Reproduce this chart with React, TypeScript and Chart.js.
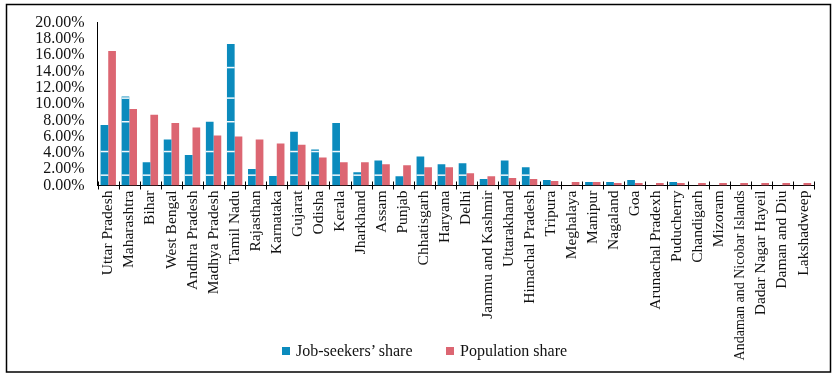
import React, { useEffect, useRef } from "react";
import { Chart, registerables } from "chart.js";

Chart.register(...registerables);

const categories = [
  "Uttar Pradesh", "Maharashtra", "Bihar", "West Bengal", "Andhra Pradesh",
  "Madhya Pradesh", "Tamil Nadu", "Rajasthan", "Karnataka", "Gujarat",
  "Odisha", "Kerala", "Jharkhand", "Assam", "Punjab", "Chhatisgarh",
  "Haryana", "Delhi", "Jammu and Kashmir", "Uttarakhand", "Himachal Pradesh",
  "Tripura", "Meghalaya", "Manipur", "Nagaland", "Goa", "Arunachal Pradexh",
  "Puducherry", "Chandigarh", "Mizoram", "Andaman and Nicobar Islands",
  "Dadar Nagar Hayeil", "Daman and Diu", "Lakshadweep",
];

const jobSeekersShare = [
  7.43, 10.94, 2.84, 5.66, 3.73, 7.83, 17.38, 2.03, 1.18, 6.59,
  4.41, 7.67, 1.63, 3.08, 1.15, 3.56, 2.6, 2.72, 0.79, 3.08,
  2.24, 0.66, 0, 0.42, 0.42, 0.66, 0, 0.42, 0, 0, 0, 0, 0, 0,
];

const populationShare = [
  16.5, 9.4, 8.68, 7.67, 7.11, 6.14, 6.02, 5.66, 5.17, 5.0,
  3.44, 2.84, 2.84, 2.6, 2.48, 2.24, 2.24, 1.51, 1.15, 0.91,
  0.79, 0.54, 0.42, 0.42, 0.3, 0.3, 0.3, 0.3, 0.3, 0.3, 0.3, 0.3, 0.3, 0.3,
];

const yTicks = [0, 2, 4, 6, 8, 10, 12, 14, 16, 18, 20];

// faint white streak levels visible across the blue bars in the source
const streakLevels = [1.27, 4.17, 7.83, 10.73, 14.48];

const BLUE = "#0b8bbd";
const PINK = "#dc6672";
const FONT = "'Liberation Serif', 'Times New Roman', serif";

const framePlugin = {
  id: "frame",
  afterDraw(chart: any) {
    const ctx = chart.ctx;
    ctx.save();
    ctx.strokeStyle = "#000";
    ctx.lineWidth = 1.5;
    ctx.strokeRect(6.5, 4.5, 824, 367.5);
    ctx.restore();
  },
};

const crossTicksPlugin = {
  id: "crossTicks",
  afterDraw(chart: any) {
    const ctx = chart.ctx;
    const xs = chart.scales.x;
    const y = chart.chartArea.bottom;
    ctx.save();
    ctx.strokeStyle = "#000";
    ctx.lineWidth = 1;
    for (let i = 0; i <= categories.length; i++) {
      const x = Math.round(xs.getPixelForValue(i - 0.5)) + 0.5;
      ctx.beginPath();
      ctx.moveTo(x, y - 4);
      ctx.lineTo(x, y + 4);
      ctx.stroke();
    }
    ctx.restore();
  },
};

const streakPlugin = {
  id: "streaks",
  afterDatasetsDraw(chart: any) {
    const ctx = chart.ctx;
    const ys = chart.scales.y;
    const meta = chart.getDatasetMeta(0);
    ctx.save();
    ctx.strokeStyle = "rgba(255,255,255,0.95)";
    ctx.lineWidth = 1.5;
    meta.data.forEach((bar: any) => {
      const props = bar.getProps(["x", "y", "base", "width"], true);
      streakLevels.forEach((lv) => {
        const py = ys.getPixelForValue(lv);
        if (py > props.y + 1 && py < props.base - 1) {
          ctx.beginPath();
          ctx.moveTo(props.x - props.width / 2, py);
          ctx.lineTo(props.x + props.width / 2, py);
          ctx.stroke();
        }
      });
    });
    ctx.restore();
  },
};

export default function App() {
  const canvasRef = useRef<HTMLCanvasElement | null>(null);

  useEffect(() => {
    document.body.style.margin = "0";
    const canvas = canvasRef.current;
    if (!canvas) return;
    const chart = new Chart(canvas, {
      type: "bar",
      data: {
        labels: categories,
        datasets: [
          {
            label: "Job-seekers’ share",
            data: jobSeekersShare,
            backgroundColor: BLUE,
            borderWidth: 0,
            categoryPercentage: 0.73,
            barPercentage: 1.0,
          },
          {
            label: "Population share",
            data: populationShare,
            backgroundColor: PINK,
            borderWidth: 0,
            categoryPercentage: 0.73,
            barPercentage: 1.0,
          },
        ],
      },
      options: {
        responsive: false,
        animation: false,
        layout: { padding: { left: 0, right: 21, top: 20, bottom: 0 } },
        plugins: {
          legend: { display: false },
          tooltip: { enabled: false },
        },
        scales: {
          x: {
            grid: { display: false, drawTicks: false },
            border: { display: true, color: "#000", width: 1 },
            ticks: {
              autoSkip: false,
              minRotation: 90,
              maxRotation: 90,
              padding: 5,
              color: "#111",
              font: (c: any) => {
                const lbl = categories[c.index] || "";
                return { family: FONT, size: lbl.length > 20 ? 14 : 15.5 };
              },
            },
            afterFit: (s: any) => {
              s.height = 191.5;
            },
          },
          y: {
            min: 0,
            max: 20,
            afterBuildTicks: (s: any) => {
              s.ticks = yTicks.map((v) => ({ value: v }));
            },
            grid: { display: false, drawTicks: false },
            border: { display: true, color: "#000", width: 1 },
            ticks: {
              autoSkip: false,
              padding: 13,
              color: "#111",
              font: { family: FONT, size: 16 },
              callback: (v: any) => Number(v).toFixed(2) + "%",
            },
            afterFit: (s: any) => {
              s.width = 97.7;
            },
          },
        },
      },
      plugins: [streakPlugin, crossTicksPlugin, framePlugin],
    });
    return () => chart.destroy();
  }, []);

  const legendText: React.CSSProperties = {
    position: "absolute",
    fontFamily: FONT,
    fontSize: "16px",
    color: "#111",
    lineHeight: "16px",
    top: 343,
    whiteSpace: "nowrap",
  };
  const box = (left: number, color: string): React.CSSProperties => ({
    position: "absolute",
    left,
    top: 347,
    width: 8,
    height: 8,
    background: color,
  });

  return (
    <div style={{ position: "relative", width: 835, height: 377 }}>
      <canvas ref={canvasRef} width={835} height={377} style={{ display: "block" }} />
      <div style={box(282, BLUE)} />
      <div style={{ ...legendText, left: 296 }}>Job-seekers’ share</div>
      <div style={box(446, PINK)} />
      <div style={{ ...legendText, left: 460 }}>Population share</div>
    </div>
  );
}
